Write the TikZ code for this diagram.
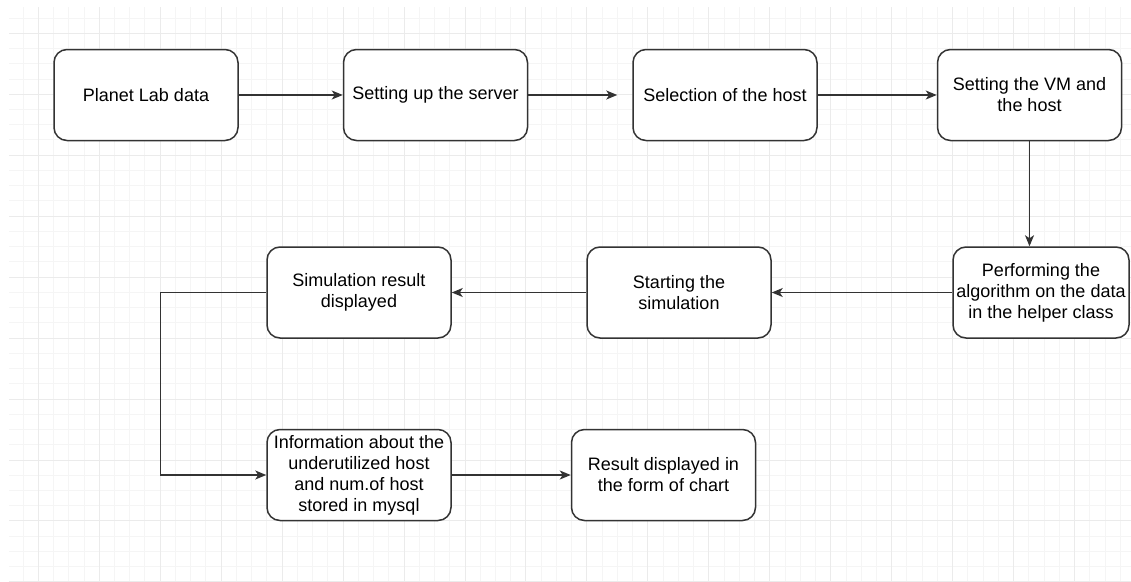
\documentclass[tikz,border=0pt]{standalone}
\usepackage{fontspec}
\setmainfont{Liberation Sans}
\usetikzlibrary{arrows.meta,positioning}

\begin{document}
\begin{tikzpicture}[x=1pt,y=-1pt,
  mybox/.style={draw=black!80, line width=1.5pt, rounded corners=13pt, fill=white,
    minimum width=184pt, minimum height=91pt, align=center, inner sep=1pt,
    font=\fontsize{18}{21}\selectfont},
  myarrow/.style={draw=black!80, line width=1.5pt, -{Stealth[length=11pt,width=9pt,inset=3pt]}}]

\useasboundingbox (0,0) rectangle (1131,581);

% background grid
\begin{scope}
  \clip (9,7) rectangle (1131,581);
  \foreach \k in {-1,...,71}
    \draw[black!4, line width=1pt] ({38.3+15.24*\k},7) -- ({38.3+15.24*\k},581);
  \foreach \k in {-1,...,36}
    \draw[black!4, line width=1pt] (9,{33.3+15.24*\k}) -- (1131,{33.3+15.24*\k});
  \foreach \k in {0,...,17}
    \draw[black!8, line width=1pt] ({38.3+60.96*\k},7) -- ({38.3+60.96*\k},581);
  \foreach \k in {0,...,9}
    \draw[black!8, line width=1pt] (9,{33.3+60.96*\k}) -- (1131,{33.3+60.96*\k});
\end{scope}

\node[mybox] (n1) at (146,95) {Planet Lab data};
\node[mybox] (n2) at (435.5,95) {Setting up the server};
\node[mybox] (n3) at (725,95) {Selection of the host};
\node[mybox] (n4) at (1029.5,95) {Setting the VM and\\the host};
\node[mybox, minimum width=176pt] (n5) at (1041,292.5) {Performing the\\algorithm on the data\\in the helper class};
\node[mybox] (n6) at (679,292.5) {Starting the\\simulation};
\node[mybox] (n7) at (359,292.5) {Simulation result\\displayed};
\node[mybox] (n8) at (359,475) {Information about the\\underutilized host\\and num.of host\\stored in mysql};
\node[mybox] (n9) at (663.5,475) {Result displayed in\\the form of chart};

\foreach \from/\to/\gap in {n1/n2/0,n2/n3/15,n3/n4/0,n5/n6/0,n6/n7/0,n8/n9/0}
    \draw[myarrow, shorten >=\gap pt] (\from) -- (\to);
\draw[myarrow] (n4.south) -- (n4.south |- n5.north);
\draw[myarrow] (n7.west) -- ++(-106,0) |- (n8.west);
\end{tikzpicture}
\end{document}
